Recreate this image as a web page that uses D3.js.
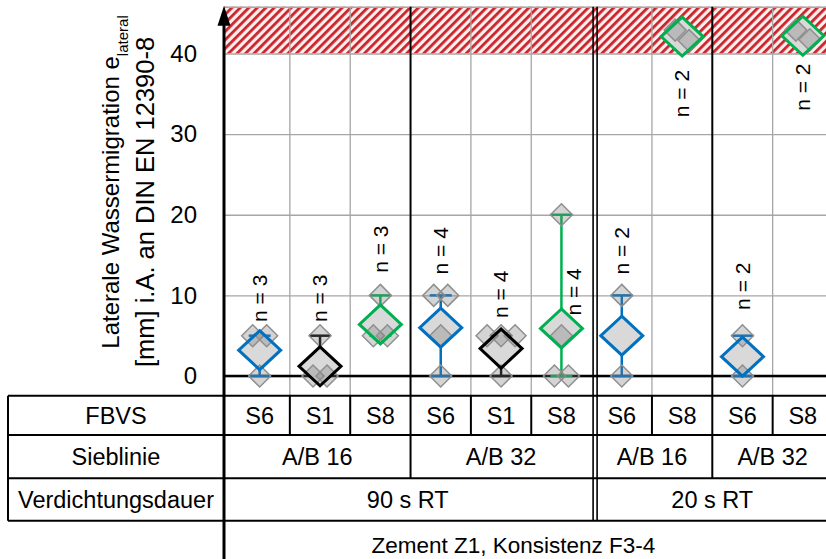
<!DOCTYPE html>
<html>
<head>
<meta charset="utf-8">
<script src="https://cdn.jsdelivr.net/npm/d3@7"></script>
<style>
  body { margin: 0; background: #fff; }
  text { font-family: "Liberation Sans", Arial, sans-serif; fill: #000; }
</style>
</head>
<body>
<svg id="chart" width="826" height="559"></svg>
<script>
// categories / table labels
const fbvs = ["S6", "S1", "S8", "S6", "S1", "S8", "S6", "S8", "S6", "S8"];
const sieblinieLabels = ["A/B 16", "A/B 32", "A/B 16", "A/B 32"];
const sieblinieSpan = [3, 3, 2, 2];
const dauerLabels = ["90 s RT", "20 s RT"];
const dauerSpan = [6, 4];
const zementLabel = "Zement Z1, Konsistenz F3-4";
const rowLabels = ["FBVS", "Sieblinie", "Verdichtungsdauer"];

// single measurements per column (mm)
const points = [
  [5, 5, 0], [5, 0, 0], [10, 5, 5], [10, 10, 5, 0], [5, 5, 5, 0],
  [20, 5, 0, 0], [10, 0], [42.9, 41.6], [5, 0], [42.9, 41.7]
];
// mean values (big diamonds)
const means = [3.2, 1.2, 6.4, 6.0, 3.4, 5.9, 5.0, 42.1, 2.4, 42.2];
// value at which the "n = .." label starts
const labelAt = [6.7, 6.7, 12.8, 12.6, 7.2, 7.5, 12.6, 32.1, 8.2, 32.9];
const yTicks = [0, 10, 20, 30, 40];
const limit = 40;
const axisTop = 45.8;

const colors = { S6: "#0070c0", S1: "#000000", S8: "#00b050" };
const fs = "23.5px";

const svg = d3.select("#chart");
const W = 826;
const axisX = 224;
const rows = [395.7, 435, 478.3, 520.7];

const x = d3.scaleBand().domain(d3.range(fbvs.length)).range([229.5, 833]);
const y = d3.scaleLinear().domain([0, 40]).range([376, 53.5]);

const defs = svg.append("defs");
const pat = defs.append("pattern")
  .attr("id", "hatch")
  .attr("patternUnits", "userSpaceOnUse")
  .attr("width", 6).attr("height", 6)
  .attr("patternTransform", "rotate(45)");
pat.append("rect").attr("width", 6).attr("height", 6).attr("fill", "#fdeeee");
pat.append("rect").attr("width", 2.8).attr("height", 6).attr("fill", "#c9242b");

// hatched area above the limit
svg.append("rect")
  .attr("x", axisX).attr("y", y(axisTop))
  .attr("width", W - axisX).attr("height", y(limit) - y(axisTop))
  .attr("fill", "url(#hatch)");

// horizontal grid
const grid = svg.append("g").attr("transform", "translate(" + axisX + ",0)");
grid.call(d3.axisRight(y).tickValues(yTicks.concat([axisTop])).tickSize(W - axisX).tickFormat(""));
grid.select(".domain").remove();
grid.selectAll(".tick line").attr("stroke", "#a6a6a6").attr("stroke-width", 1.3);

// group boundaries
const bounds = d3.range(1, fbvs.length).map(i => x(i));
function groupEnds(spans) {
  let acc = 0;
  return spans.map(s => (acc += s));
}
const siebEnds = groupEnds(sieblinieSpan);
const dauerEnds = groupEnds(dauerSpan);

bounds.forEach((bx, k) => {
  const i = k + 1;
  const isDauer = dauerEnds.slice(0, -1).includes(i);
  const isSieb = siebEnds.slice(0, -1).includes(i);
  if (isDauer) {
    [bx + 1.5, bx + 5.5].forEach(px => {
      svg.append("line").attr("x1", px).attr("x2", px)
        .attr("y1", y(axisTop)).attr("y2", rows[3])
        .attr("stroke", "#000").attr("stroke-width", 1.6);
    });
  } else if (isSieb) {
    svg.append("line").attr("x1", bx).attr("x2", bx)
      .attr("y1", y(axisTop)).attr("y2", rows[2])
      .attr("stroke", "#000").attr("stroke-width", 2);
  } else {
    svg.append("line").attr("x1", bx).attr("x2", bx)
      .attr("y1", y(axisTop)).attr("y2", rows[0])
      .attr("stroke", "#a6a6a6").attr("stroke-width", 1.3);
    svg.append("line").attr("x1", bx).attr("x2", bx)
      .attr("y1", rows[0]).attr("y2", rows[1])
      .attr("stroke", "#000").attr("stroke-width", 2);
  }
});

// zero line
svg.append("line")
  .attr("x1", axisX).attr("x2", W)
  .attr("y1", y(0)).attr("y2", y(0))
  .attr("stroke", "#000").attr("stroke-width", 2.5);

// y tick labels
const yAxis = svg.append("g").attr("transform", "translate(" + axisX + ",0)");
yAxis.call(d3.axisLeft(y).tickValues(yTicks).tickSize(0).tickPadding(27));
yAxis.select(".domain").remove();
yAxis.selectAll(".tick text")
  .style("font-family", "Liberation Sans, Arial, sans-serif")
  .style("font-size", "24px").attr("fill", "#000");

// y axis title
const title = svg.append("g");
const t1 = title.append("text")
  .attr("transform", "translate(119,182) rotate(-90)")
  .attr("text-anchor", "middle").style("font-size", "24px");
t1.append("tspan").text("Laterale Wassermigration e");
t1.append("tspan").attr("baseline-shift", "sub").style("font-size", "15px").text("lateral");
title.append("text")
  .attr("transform", "translate(154,202) rotate(-90)")
  .attr("text-anchor", "middle").style("font-size", "25.5px")
  .text("[mm] i.A. an DIN EN 12390-8");

// data marks
const cols = fbvs.map((f, i) => ({ i, f, pts: points[i], mean: means[i], lab: labelAt[i] }));
const diamond = (cx, cy, hw, hh) =>
  "M" + cx + "," + (cy - hh) + "L" + (cx + hw) + "," + cy + "L" + cx + "," + (cy + hh) + "L" + (cx - hw) + "," + cy + "Z";

const marks = svg.append("g");
cols.forEach(c => {
  const cx = x(c.i) + x.bandwidth() / 2;
  const col = colors[c.f];
  const ext = d3.extent(c.pts);
  const g = marks.append("g");

  // error bar (min / max)
  g.append("line").attr("x1", cx).attr("x2", cx)
    .attr("y1", y(ext[0])).attr("y2", y(ext[1]))
    .attr("stroke", col).attr("stroke-width", 2.5);
  ext.forEach(v => {
    g.append("line").attr("x1", cx - 11).attr("x2", cx + 11)
      .attr("y1", y(v)).attr("y2", y(v))
      .attr("stroke", col).attr("stroke-width", 2.5);
  });

  // mean diamond fill
  g.append("path").attr("d", diamond(cx, y(c.mean), 21, 19.5)).attr("fill", "#d9d9d9");

  // single values, spread sideways when they are close
  const sorted = c.pts.slice().sort((a, b) => b - a);
  const clusters = [];
  sorted.forEach(v => {
    const last = clusters[clusters.length - 1];
    if (last && Math.abs(last[last.length - 1] - v) < 1.5) last.push(v);
    else clusters.push([v]);
  });
  clusters.forEach(cl => {
    cl.forEach((v, k) => {
      const dx = (k - (cl.length - 1) / 2) * 14;
      g.append("path").attr("d", diamond(cx + dx, y(v), 11, 11))
        .attr("fill", "rgba(120,120,120,0.32)")
        .attr("stroke", "#8f8f8f").attr("stroke-width", 1.5);
    });
  });

  // mean diamond outline
  g.append("path").attr("d", diamond(cx, y(c.mean), 21, 19.5))
    .attr("fill", "none").attr("stroke", col).attr("stroke-width", 3);

  // n label
  const labTop = c.lab + 52 / (y(0) - y(1));
  const overlaps = c.lab < ext[1] && labTop > ext[0];
  g.append("text")
    .attr("transform", "translate(" + (cx + (overlaps ? 12 : 0)) + "," + y(c.lab) + ") rotate(-90)")
    .attr("dy", "0.35em").style("font-size", "21px")
    .text("n = " + c.pts.length);
});

// table
const tbl = svg.append("g");
rows.forEach(ry => {
  tbl.append("line").attr("x1", 8).attr("x2", W).attr("y1", ry).attr("y2", ry)
    .attr("stroke", "#000").attr("stroke-width", 2);
});
tbl.append("line").attr("x1", 8).attr("x2", 8).attr("y1", rows[0]).attr("y2", rows[3])
  .attr("stroke", "#000").attr("stroke-width", 2);
rowLabels.forEach((lbl, r) => {
  tbl.append("text").attr("x", (8 + axisX) / 2).attr("y", (rows[r] + rows[r + 1]) / 2)
    .attr("dy", "0.35em").attr("text-anchor", "middle").style("font-size", fs).text(lbl);
});
const cellText = (x0, x1, r, txt) => tbl.append("text")
  .attr("x", (x0 + x1) / 2).attr("y", (rows[r] + rows[r + 1]) / 2)
  .attr("dy", "0.35em").attr("text-anchor", "middle").style("font-size", fs).text(txt);

fbvs.forEach((f, i) => cellText(x(i), x(i) + x.bandwidth(), 0, f));
let start = 0;
sieblinieLabels.forEach((lbl, k) => {
  const x0 = start === 0 ? axisX : x(start);
  cellText(x0, x(start + sieblinieSpan[k] - 1) + x.bandwidth(), 1, lbl);
  start += sieblinieSpan[k];
});
start = 0;
dauerLabels.forEach((lbl, k) => {
  const x0 = start === 0 ? axisX : x(start);
  cellText(x0, x(start + dauerSpan[k] - 1) + x.bandwidth(), 2, lbl);
  start += dauerSpan[k];
});
const lastC = x(fbvs.length - 1) + x.bandwidth() / 2;
tbl.append("text").attr("x", (axisX + lastC) / 2).attr("y", 545)
  .attr("dy", "0.35em").attr("text-anchor", "middle").style("font-size", "22.5px").text(zementLabel);

// y axis with arrow
svg.append("line").attr("x1", axisX).attr("x2", axisX)
  .attr("y1", 559).attr("y2", y(axisTop) + 14)
  .attr("stroke", "#000").attr("stroke-width", 3);
svg.append("path")
  .attr("d", "M" + axisX + "," + (y(axisTop) - 1) + "L" + (axisX + 6.5) + "," + (y(axisTop) + 19) + "L" + (axisX - 6.5) + "," + (y(axisTop) + 19) + "Z")
  .attr("fill", "#000");
</script>
</body>
</html>
